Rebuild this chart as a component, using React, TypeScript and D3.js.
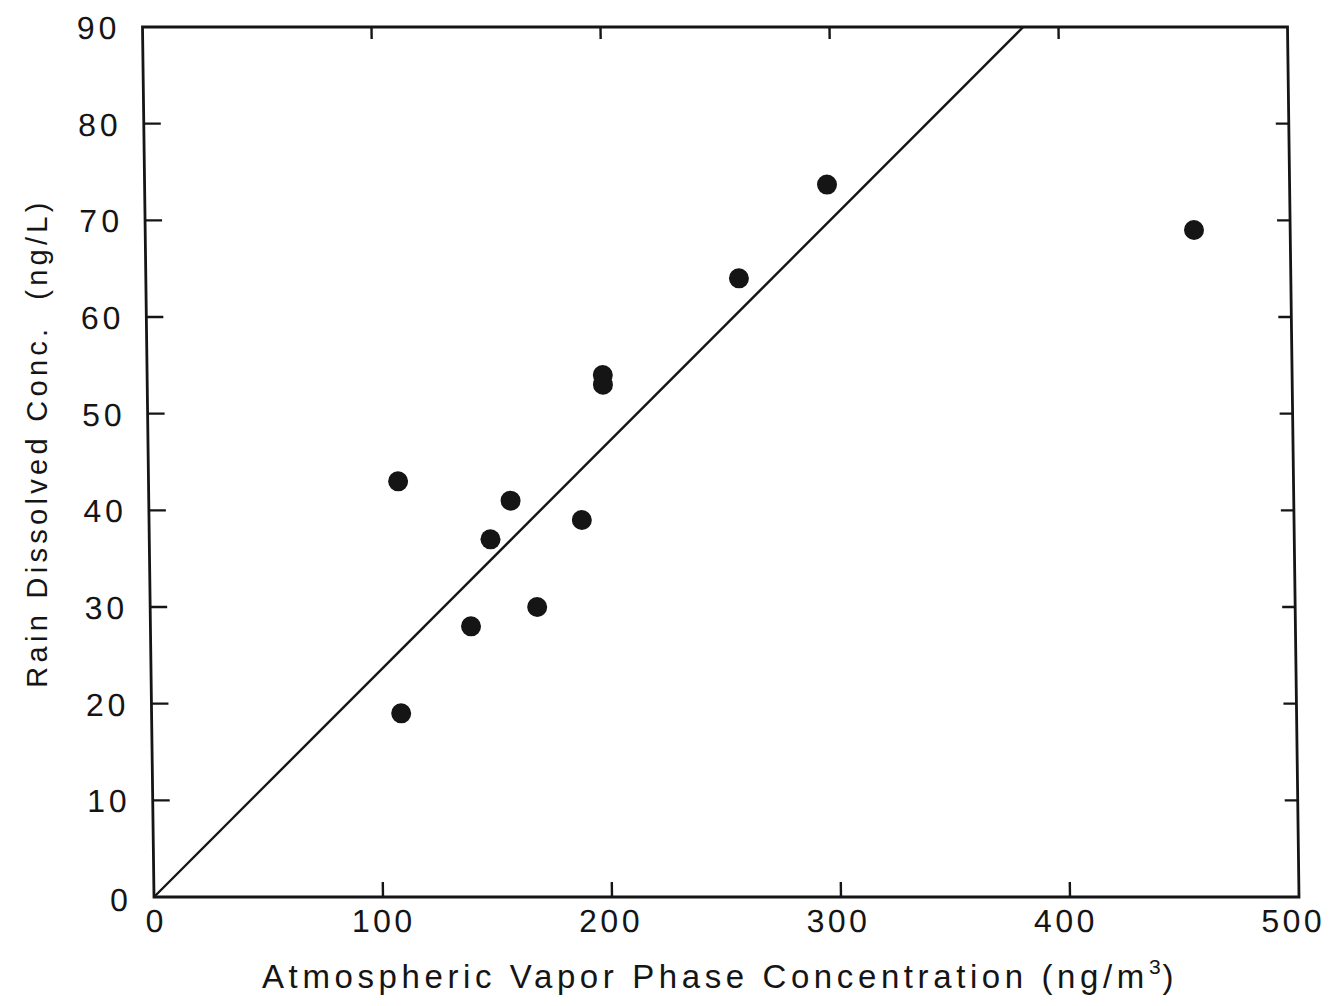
import React from "react";
import * as d3 from "d3";

// Data
const xValues = [109, 109, 140, 149, 158, 169, 189, 199, 199, 259, 298, 458];
const yValues = [43, 19, 28, 37, 41, 30, 39, 54, 53, 64, 73.7, 69];
const fitX = [0, 384.6];
const fitY = [0, 90];
const xTicks = [0, 100, 200, 300, 400, 500];
const yTicks = [0, 10, 20, 30, 40, 50, 60, 70, 80, 90];
const xTitle = "Atmospheric Vapor Phase Concentration (ng/m";
const xTitleSup = "3";
const xTitleEnd = ")";
const yTitle = "Rain Dissolved Conc.\u00a0\u00a0(ng/L)";

const W = 1332;
const H = 1006;
const left = 154;
const right = 1299;
const top = 27;
const bottom = 897;
const skewDeg = (Math.atan(11.5 / 870) * 180) / Math.PI;
const FONT = "'Liberation Sans', Arial, sans-serif";
const INK = "#151515";

export default function App() {
  const x = d3.scaleLinear().domain([0, 500]).range([left, right]);
  const y = d3.scaleLinear().domain([0, 90]).range([bottom, top]);
  const line = d3
    .line<number>()
    .x((d) => x(d))
    .y((_, i) => y(fitY[i]));

  return (
    <svg
      width={W}
      height={H}
      style={{ position: "absolute", left: 0, top: 0, background: "#fff" }}
    >
      <rect x={0} y={0} width={W} height={H} fill="#fff" />
      <g transform={`translate(0,${bottom}) skewX(${skewDeg}) translate(0,${-bottom})`}>
        {/* frame */}
        <rect
          x={left}
          y={top}
          width={right - left}
          height={bottom - top}
          fill="none"
          stroke={INK}
          strokeWidth={2.8}
        />
        {/* y ticks */}
        {yTicks.map((t) => (
          <g key={"yt" + t}>
            {t > 0 && t < 90 && (
              <>
                <line x1={left} x2={left + 17} y1={y(t)} y2={y(t)} stroke={INK} strokeWidth={2.4} />
                <line x1={right} x2={right - 13} y1={y(t)} y2={y(t)} stroke={INK} strokeWidth={2.4} />
              </>
            )}
            <text
              x={left - 22}
              y={y(t) + (t === 0 ? 3 : 1)}
              textAnchor="end"
              dominantBaseline="central"
              fontFamily={FONT}
              fontSize={32}
              letterSpacing={4}
              fill={INK}
            >
              {t}
            </text>
          </g>
        ))}
        {/* x ticks */}
        {xTicks.map((t) => (
          <g key={"xt" + t}>
            {t > 0 && t < 500 && (
              <>
                <line x1={x(t)} x2={x(t)} y1={bottom} y2={bottom - 15} stroke={INK} strokeWidth={2.4} />
                <line x1={x(t)} x2={x(t)} y1={top} y2={top + 12} stroke={INK} strokeWidth={2.4} />
              </>
            )}
            <text
              x={x(t) + 2 - t * 0.016}
              y={bottom + 35}
              textAnchor="middle"
              fontFamily={FONT}
              fontSize={32}
              letterSpacing={3.5}
              fill={INK}
            >
              {t}
            </text>
          </g>
        ))}
        {/* fit line */}
        <path d={line(fitX) || ""} fill="none" stroke={INK} strokeWidth={2.4} />
        {/* points */}
        {xValues.map((v, i) => (
          <circle key={"p" + i} cx={x(v)} cy={y(yValues[i])} r={10} fill={INK} />
        ))}
      </g>
      {/* axis titles */}
      <text
        x={262}
        y={988}
        fontFamily={FONT}
        fontSize={33}
        letterSpacing={4.6}
        fill={INK}
      >
        {xTitle}
        <tspan dy={-14} fontSize={21} letterSpacing={2}>
          {xTitleSup}
        </tspan>
        <tspan dy={14}>{xTitleEnd}</tspan>
      </text>
      <text
        transform={`translate(47,443) rotate(-90)`}
        textAnchor="middle"
        fontFamily={FONT}
        fontSize={29}
        letterSpacing={4.3}
        fill={INK}
      >
        {yTitle}
      </text>
    </svg>
  );
}
